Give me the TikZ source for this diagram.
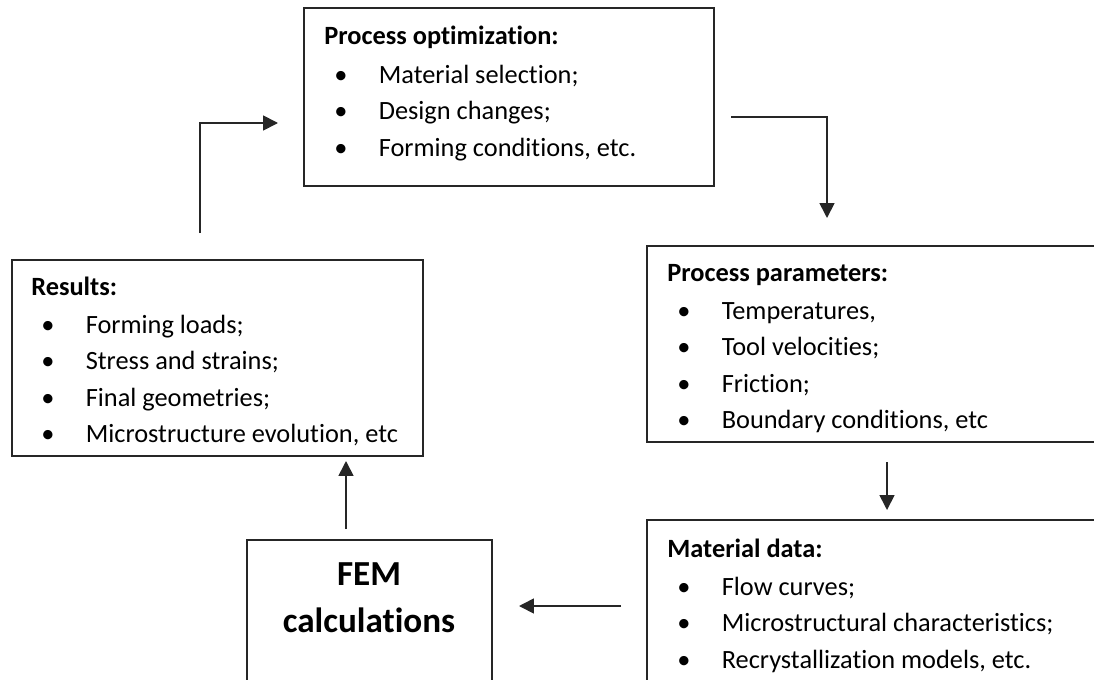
\documentclass[tikz,border=0pt]{standalone}
\usepackage{fontspec}
\setmainfont{Carlito}[Ligatures=NoCommon]
\usetikzlibrary{arrows.meta}
\newcommand{\bitem}[1]{\hspace*{5.7pt}\makebox[25.3pt][l]{\textbullet}#1}

\tikzset{
	box/.style={draw=black!85, line width=1pt, anchor=north west, inner sep=0pt},
	list/.style={anchor=base west, inner sep=0pt, font=\fontsize{15}{20.8}\selectfont},
	flow/.style={line width=1pt, draw=black!85, -{Triangle[length=8.5pt,width=8.5pt]}},
}

\begin{document}
\begin{tikzpicture}[x=0.02cm, y=-0.02cm]
			%%%%% START %%%%%
			
			\clip (0, 0) rectangle (1094, 679);
			
			% boxes
			\node[box, minimum width=8.2cm, minimum height=3.56cm] (opt) at (303, 7) {};
			\node[box, minimum width=8.22cm, minimum height=3.92cm] (res) at (11, 259) {};
			\node[box, minimum width=9.3cm, minimum height=3.92cm] (par) at (646, 245) {};
			\node[box, minimum width=9.3cm, minimum height=3.8cm] (mat) at (646, 519) {};
			\node[box, minimum width=4.9cm, minimum height=3.4cm] (fem) at (246, 539) {};
			
			% texts
			\node[list] (opttext) at (324, 45) {\begin{tabular}[t]{@{}l@{}}
				\textbf{Process optimization:}\\[1pt]
				\bitem{Material selection;}\\
				\bitem{Design changes;}\\
				\bitem{Forming conditions, etc.}
			\end{tabular}};
			
			\node[list] (restext) at (31, 295) {\begin{tabular}[t]{@{}l@{}}
				\textbf{Results:}\\[1pt]
				\bitem{Forming loads;}\\
				\bitem{Stress and strains;}\\
				\bitem{Final geometries;}\\
				\bitem{Microstructure evolution, etc}
			\end{tabular}};
			
			\node[list] (partext) at (667, 281) {\begin{tabular}[t]{@{}l@{}}
				\textbf{Process parameters:}\\[1pt]
				\bitem{Temperatures,}\\
				\bitem{Tool velocities;}\\
				\bitem{Friction;}\\
				\bitem{Boundary conditions, etc}
			\end{tabular}};
			
			\node[list] (mattext) at (667, 557) {\begin{tabular}[t]{@{}l@{}}
				\textbf{Material data:}\\[1pt]
				\bitem{Flow curves;}\\
				\bitem{Microstructural characteristics;}\\
				\bitem{Recrystallization models, etc.}
			\end{tabular}};
			
			\node[anchor=base, inner sep=0pt, font=\fontsize{20}{26.8}\selectfont\bfseries] (femtext) at (369, 585)
				{\begin{tabular}[t]{@{}c@{}}FEM\\calculations\end{tabular}};
			
			% arrows
			\coordinate (resout) at (200, 233);
			\coordinate (optin) at (278, 123);
			\coordinate (optout) at (731, 117);
			\coordinate (parin) at (827, 218);
			\coordinate (parout) at (887, 462);
			\coordinate (matin) at (887, 510);
			\coordinate (matout) at (621, 606);
			\coordinate (femin) at (519, 606);
			\coordinate (femout) at (346, 529);
			\coordinate (resin) at (346, 461);
			
			\draw[flow] (resout) |- (optin);
			\draw[flow] (optout) -| (parin);
			\draw[flow] (parout) -- (matin);
			\draw[flow] (matout) -- (femin);
			\draw[flow] (femout) -- (resin);
			
			%%%%% END %%%%%
\end{tikzpicture}
\end{document}
